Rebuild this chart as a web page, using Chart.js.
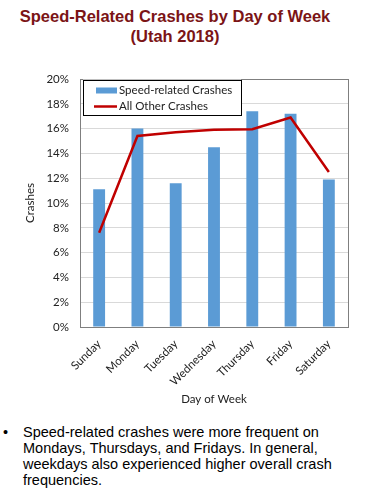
<!DOCTYPE html>
<html><head><meta charset="utf-8">
<script src="https://cdn.jsdelivr.net/npm/chart.js@4.4.1/dist/chart.umd.min.js"></script>
<style>
html,body{margin:0;padding:0;background:#fff;width:377px;height:492px;overflow:hidden;font-family:"Liberation Sans",Arial,sans-serif;}
#title{position:absolute;left:0;top:6px;width:350px;text-align:center;font-weight:bold;font-size:16.5px;line-height:20px;color:#7b1416;}
#wrap{position:absolute;left:0;top:60px;width:377px;height:350px;}
#note{position:absolute;left:23px;top:424px;width:350px;font-size:14.5px;line-height:16px;color:#000;}
#bullet{position:absolute;left:3px;top:424px;font-size:14.5px;line-height:16px;}
</style></head>
<body>
<div id="title">Speed-Related Crashes by Day of Week<br>(Utah 2018)</div>
<div id="wrap"><canvas id="c"></canvas></div>
<div id="bullet">•</div>
<div id="note">Speed-related crashes were more frequent on Mondays, Thursdays, and Fridays. In general, weekdays also experienced higher overall crash frequencies.</div>
<script>
const days = ["Sunday","Monday","Tuesday","Wednesday","Thursday","Friday","Saturday"];
const speedRelated = [11.1, 16.0, 11.6, 14.5, 17.4, 17.2, 11.9];
const allOther = [7.6, 15.4, 15.7, 15.9, 15.95, 16.9, 12.5];
const yTicks = [0,2,4,6,8,10,12,14,16,18,20];

const FONT = "Lato";

const frameLegend = {
  id:'frameLegend',
  afterDatasetsDraw(chart){
    const {ctx, chartArea:a} = chart;
    ctx.save();
    ctx.strokeStyle = '#7f7f7f'; ctx.lineWidth = 1;
    ctx.strokeRect(Math.round(a.left)+0.5, Math.round(a.top)+0.5, Math.round(a.right-a.left), Math.round(a.bottom-a.top));
    const lx = a.left + 3, ly = a.top + 0.5, lw = 158, lh = 35;
    ctx.fillStyle = '#fff';
    ctx.fillRect(lx, ly, lw, lh);
    ctx.strokeStyle = '#000';
    ctx.strokeRect(Math.round(lx)+0.5, Math.round(ly)+0.5, lw, lh);
    const ds = chart.data.datasets;
    const bar = ds.find(d=>d.type==='bar'), line = ds.find(d=>d.type==='line');
    ctx.font = '11.5px ' + FONT;
    ctx.textBaseline = 'middle';
    ctx.fillStyle = bar.backgroundColor;
    ctx.fillRect(lx + 13, ly + 8, 21, 6);
    ctx.fillStyle = '#222';
    ctx.fillText(bar.label, lx + 36, ly + 11);
    ctx.strokeStyle = line.borderColor; ctx.lineWidth = 2.5;
    ctx.beginPath(); ctx.moveTo(lx + 11, ly + 27); ctx.lineTo(lx + 34, ly + 27); ctx.stroke();
    ctx.fillStyle = '#222';
    ctx.fillText(line.label, lx + 36, ly + 27);
    ctx.restore();
  }
};

new Chart(document.getElementById('c'), {
  data: {
    labels: days,
    datasets: [
      {type:'bar', label:'Speed-related Crashes', data: speedRelated, backgroundColor:'#5b9bd5', barPercentage:0.31, categoryPercentage:1, order:1},
      {type:'line', label:'All Other Crashes', data: allOther, borderColor:'#c00000', backgroundColor:'#c00000', borderWidth:2.5, pointRadius:0, tension:0, order:0}
    ]
  },
  options: {
    responsive:true, maintainAspectRatio:false, animation:false,
    layout:{padding:{left:23, top:19, right:29, bottom:0}},
    plugins:{legend:{display:false}, tooltip:{enabled:false}},
    scales:{
      x:{
        grid:{display:false, drawTicks:false},
        border:{color:'#7f7f7f'},
        ticks:{color:'#222', font:{family:FONT, size:11.5}, maxRotation:45, minRotation:45, padding:10, autoSkip:false},
        title:{display:true, text:'Day of Week', color:'#222', font:{family:FONT, size:11.5}, padding:{top:0,bottom:4}},
        afterFit(s){ s.height = 83; }
      },
      y:{
        min:0, max:20,
        grid:{color:'#d9d9d9', drawTicks:false},
        border:{display:false},
        afterBuildTicks(s){ s.ticks = yTicks.map(v=>({value:v})); },
        ticks:{color:'#222', font:{family:FONT, size:11.5}, padding:11, callback:v=>v+'%'},
        title:{display:true, text:'Crashes', color:'#222', font:{family:FONT, size:11.5}, padding:0},
        afterFit(s){ s.width = 57; }
      }
    }
  },
  plugins:[frameLegend]
});
</script>
</body></html>
